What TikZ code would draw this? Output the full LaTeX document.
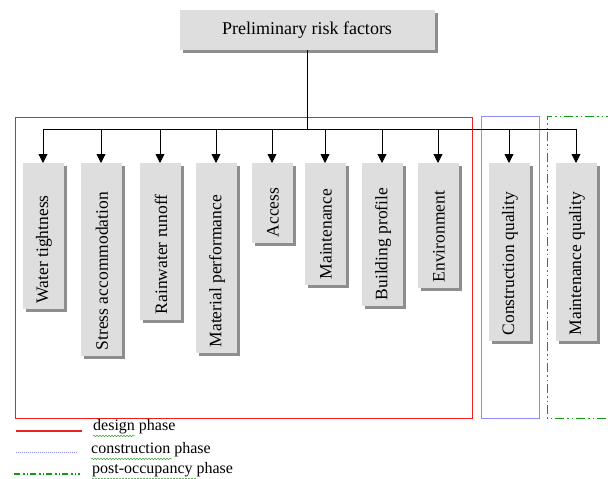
\documentclass[tikz,border=0pt]{standalone}
\usepackage{fontspec}
\setmainfont{Liberation Serif}
\usetikzlibrary{arrows.meta,shadows,calc,decorations.pathmorphing}
\definecolor{boxgray}{HTML}{DEDEDE}
\definecolor{shadegray}{HTML}{8E8E8E}
\definecolor{designred}{HTML}{F02020}
\definecolor{constrblue}{HTML}{8C8CFF}
\definecolor{postgreen}{HTML}{109A10}
\definecolor{spellgreen}{HTML}{30A030}
\tikzset{
  panel/.style={fill=boxgray, inner sep=0pt,
    drop shadow={shadow xshift=3pt, shadow yshift=-3pt, fill=shadegray, opacity=1}},
  factor/.style={panel, minimum width=41pt, anchor=north},
  vlabel/.style={rotate=90, anchor=west, inner sep=0pt, font=\fontsize{17.5}{19}\selectfont},
  link/.style={line width=0.8pt, -{Triangle[length=9pt,width=9pt]}},
  trunk/.style={line width=0.8pt},
  spell/.style={spellgreen, line width=0.5pt, decorate,
    decoration={snake, segment length=3pt, amplitude=0.7pt}},
  legendtext/.style={anchor=west, inner sep=0pt, font=\fontsize{16}{18}\selectfont}
}
\begin{document}
\begin{tikzpicture}[x=1pt,y=-1pt]
\useasboundingbox[fill=white] (0,0) rectangle (608,479);

% phase frames
\draw[designred, line width=1pt] (15,117) rectangle (472,418);
\draw[constrblue, line width=0.9pt] (481,116) rectangle (539,418);
\draw[postgreen, line width=1pt,
  dash pattern=on 9pt off 3pt on 1.5pt off 3pt on 1.5pt off 3pt]
  (615,116) -- (547,116) -- (547,418) -- (615,418);

% root
\node[panel, minimum width=255pt, minimum height=40pt,
  font=\fontsize{18}{20}\selectfont] (root) at (307,30) {Preliminary risk factors};

% distribution bus
\coordinate (busL) at (43,129);
\coordinate (busR) at (577,129);
\draw[trunk] (root.south) -- (root.south |- busL);
\draw[trunk] (busL) -- (busR);

% factor boxes: name / centre x / bottom y / text
\foreach \n/\cx/\by/\txt in {
  f1/43/309/{Water tightness},
  f2/101/356/{Stress accommodation},
  f3/160/320/{Rainwater runoff},
  f4/216/353/{Material performance},
  f5/272/243/{Access},
  f6/325/285/{Maintenance},
  f7/382/306/{Building profile},
  f8/438/288/{Environment},
  f9/509/341/{Construction quality},
  f10/576/341/{Maintenance quality}}{
  \node[factor, minimum height=\by pt-163pt] (\n) at (\cx,163) {};
  \node[vlabel] (\n t) at ($(\n.south)+(1,-6)$) {\txt};
  \draw[link] (\n.north |- busL) -- (\n.north);
}

% legend
\coordinate (l1a) at (16,431);  \coordinate (l1b) at (82,431);
\coordinate (l2a) at (16,452);  \coordinate (l2b) at (78,452);
\coordinate (l3a) at (14,474);  \coordinate (l3b) at (80,474);
\draw[designred, line width=1.2pt] (l1a) -- (l1b);
\draw[constrblue, line width=1pt, dash pattern=on 1pt off 1pt] (l2a) -- (l2b);
\draw[postgreen, line width=1.1pt,
  dash pattern=on 6pt off 3pt on 1.5pt off 2pt on 1.5pt off 2pt] (l3a) -- (l3b);
\node[legendtext] (d1) at (93,427) {design phase};
\node[legendtext] (d2) at (91,450) {construction phase};
\node[legendtext] (d3) at (92,470) {post-occupancy phase};
\draw[spell] ($(d1.south west)+(0,1.5)$) -- ++(42,0);
\draw[spell] ($(d2.south west)+(0,1.5)$) -- ++(81,0);
\draw[spell] ($(d3.south west)+(0,1.5)$) -- ++(104,0);
\end{tikzpicture}
\end{document}
